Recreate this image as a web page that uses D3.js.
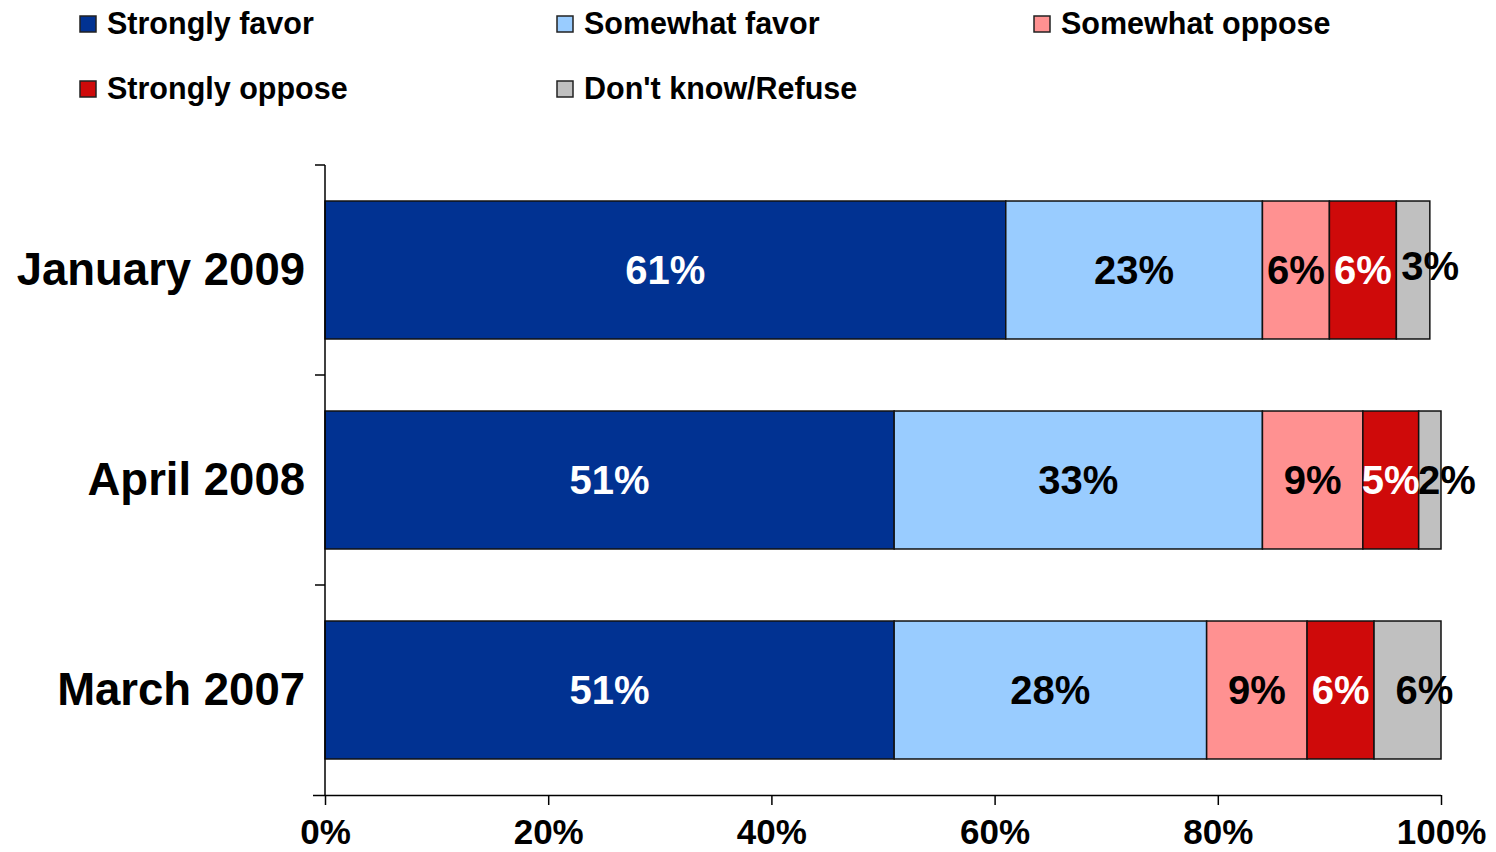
<!DOCTYPE html>
<html>
<head>
<meta charset="utf-8">
<script src="https://cdn.jsdelivr.net/npm/d3@7"></script>
<style>
  body { margin: 0; background: #fff; }
  text { font-family: "Liberation Sans", Arial, sans-serif; font-weight: bold; }
</style>
</head>
<body>
<div id="chart"></div>
<script>
const categories = ["January 2009", "April 2008", "March 2007"];
const seriesNames = ["Strongly favor", "Somewhat favor", "Somewhat oppose", "Strongly oppose", "Don't know/Refuse"];
const stronglyFavor = [61, 51, 51];
const somewhatFavor = [23, 33, 28];
const somewhatOppose = [6, 9, 9];
const stronglyOppose = [6, 5, 6];
const dontKnow = [3, 2, 6];
const xTicks = [0, 20, 40, 60, 80, 100];

const colors = ["#013292", "#99CCFF", "#FF9191", "#CF0A0A", "#C0C0C0"];
const labelColors = ["#fff", "#000", "#000", "#fff", "#000"];

const width = 1496, height = 852;

const svg = d3.select("#chart")
    .append("svg")
    .attr("width", width)
    .attr("height", height);

// build rows for the stack
const rows = categories.map((c, i) => ({
    cat: c,
    s0: stronglyFavor[i], s1: somewhatFavor[i], s2: somewhatOppose[i], s3: stronglyOppose[i], s4: dontKnow[i]
}));
const keys = ["s0", "s1", "s2", "s3", "s4"];
const stacked = d3.stack().keys(keys)(rows);

const x = d3.scaleLinear().domain([0, 100]).range([325, 1441]);
const y = d3.scaleBand().domain(categories).range([165, 795]).paddingInner(0.343).paddingOuter(0.1715);

// bars
const layers = svg.selectAll("g.layer")
    .data(stacked)
    .join("g")
    .attr("class", "layer")
    .attr("fill", (d, i) => colors[i]);

layers.selectAll("rect")
    .data(d => d)
    .join("rect")
    .attr("x", d => x(d[0]))
    .attr("y", d => y(d.data.cat))
    .attr("width", d => x(d[1]) - x(d[0]))
    .attr("height", y.bandwidth())
    .attr("stroke", "#111")
    .attr("stroke-width", 1.5);

// value labels
stacked.forEach((layer, i) => {
    svg.append("g")
        .selectAll("text")
        .data(layer)
        .join("text")
        .attr("x", d => (x(d[0]) + x(d[1])) / 2 + (i === 4 ? 17 : 0))
        .attr("y", d => y(d.data.cat) + y.bandwidth() / 2 + (i === 4 && d.data.cat === "January 2009" ? -4 : 0))
        .attr("dy", "0.36em")
        .attr("text-anchor", "middle")
        .attr("fill", labelColors[i])
        .style("font-size", "40px")
        .text(d => (d[1] - d[0]) + "%");
});

// x axis
const xAxis = svg.append("g")
    .attr("transform", "translate(0,795)")
    .call(d3.axisBottom(x).tickValues(xTicks).tickFormat(d => d + "%").tickSize(10).tickSizeOuter(0));
xAxis.select(".domain").attr("d", "M313,0.5H1441").attr("stroke", "#000").attr("stroke-width", 1.5);
xAxis.selectAll(".tick line").attr("stroke", "#000").attr("stroke-width", 1.5);
xAxis.selectAll(".tick text")
    .attr("y", 36)
    .attr("dy", "0.36em")
    .attr("fill", "#000")
    .style("font-size", "35px")
    .style("font-family", "'Liberation Sans', Arial, sans-serif");

// y axis line and ticks at category boundaries
svg.append("line")
    .attr("x1", 325).attr("x2", 325)
    .attr("y1", 165).attr("y2", 795)
    .attr("stroke", "#000").attr("stroke-width", 1.5);

const boundaries = d3.range(categories.length).map(i => y.range()[0] + i * y.step());
svg.append("g")
    .selectAll("line")
    .data(boundaries)
    .join("line")
    .attr("x1", 315).attr("x2", 325)
    .attr("y1", d => d).attr("y2", d => d)
    .attr("stroke", "#000").attr("stroke-width", 1.5);

// category labels
svg.append("g")
    .selectAll("text")
    .data(categories)
    .join("text")
    .attr("x", 305)
    .attr("y", d => y(d) + y.bandwidth() / 2)
    .attr("dy", "0.34em")
    .attr("text-anchor", "end")
    .attr("fill", "#000")
    .style("font-size", "45.5px")
    .text(d => d);

// legend
const legendPos = [[80, 24], [557, 24], [1034, 24], [80, 89], [557, 89]];
const legend = svg.append("g")
    .selectAll("g")
    .data(seriesNames)
    .join("g")
    .attr("transform", (d, i) => `translate(${legendPos[i][0]},${legendPos[i][1]})`);

legend.append("rect")
    .attr("x", 0).attr("y", -8)
    .attr("width", 16).attr("height", 16)
    .attr("fill", (d, i) => colors[i])
    .attr("stroke", "#222")
    .attr("stroke-width", 1.5);

legend.append("text")
    .attr("x", 27)
    .attr("y", 0)
    .attr("dy", "0.34em")
    .attr("fill", "#000")
    .style("font-size", "30.5px")
    .text(d => d);
</script>
</body>
</html>
